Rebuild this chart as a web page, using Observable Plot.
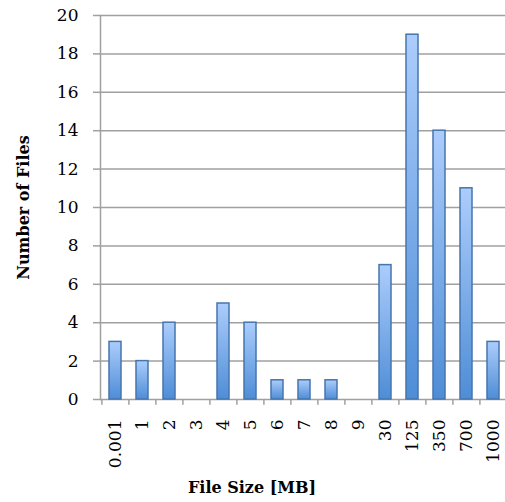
<!DOCTYPE html>
<html>
<head>
<meta charset="utf-8">
<script src="https://cdn.jsdelivr.net/npm/d3@7"></script>
<script src="https://cdn.jsdelivr.net/npm/@observablehq/plot@0.6"></script>
<style>
  html, body { margin: 0; padding: 0; background: #fff; }
  #chart svg { display: block; }
</style>
</head>
<body>
<div id="chart"></div>
<script>
// File size buckets (MB) and how many files fall in each
const sizes = ["0.001", "1", "2", "3", "4", "5", "6", "7", "8", "9", "30", "125", "350", "700", "1000"];
const counts = [3, 2, 4, 0, 5, 4, 1, 1, 1, 0, 7, 19, 14, 11, 3];
const yTicks = [0, 2, 4, 6, 8, 10, 12, 14, 16, 18, 20];

const rows = sizes.map((s, i) => ({size: s, count: counts[i]}));

const gridColor = "#a0a0a0";
const font = "DejaVu Serif";

const plot = Plot.plot({
  width: 505,
  height: 502,
  marginLeft: 100,
  marginRight: 0,
  marginTop: 15,
  marginBottom: 103,
  style: {fontFamily: font, fontSize: "17px", color: "#000", background: "#fff"},
  x: {domain: sizes, range: [100, 508], paddingInner: 0.57, paddingOuter: 0.285, label: null},
  y: {domain: [0, 20], label: null},
  marks: [
    Plot.gridY(yTicks, {stroke: gridColor, strokeOpacity: 1, strokeWidth: 1.5}),
    Plot.axisY(yTicks, {tickSize: 7, tickPadding: 15, stroke: gridColor, strokeWidth: 1.5, fontSize: 17, label: null}),
    Plot.frame({anchor: "left", stroke: gridColor, strokeWidth: 1.5}),
    // category boundary ticks below the baseline
    Plot.ruleX(sizes, {x: d => d, dx: -13.6, y1: 0, y2: -0.3, stroke: gridColor, strokeWidth: 1.5}),
    Plot.barY(rows, {x: "size", y: "count", fill: "url(#barGrad)", stroke: "#4676ae", strokeWidth: 1.5}),
    Plot.axisX({tickSize: 0, tickPadding: 20, tickRotate: -90, fontSize: 17, label: null}),
    Plot.text(["Number of Files"], {frameAnchor: "left", textAnchor: "middle", lineAnchor: "middle", dx: -77, rotate: -90, fontWeight: "bold", fontSize: 16}),
    Plot.text(["File Size [MB]"], {frameAnchor: "bottom", textAnchor: "middle", lineAnchor: "middle", dx: -51, dy: 88, fontWeight: "bold", fontSize: 16})
  ]
});

// vertical gradient used by each bar
const ns = "http://www.w3.org/2000/svg";
const defs = document.createElementNS(ns, "defs");
const grad = document.createElementNS(ns, "linearGradient");
grad.setAttribute("id", "barGrad");
grad.setAttribute("x1", "0"); grad.setAttribute("y1", "0");
grad.setAttribute("x2", "0"); grad.setAttribute("y2", "1");
[["0%", "#accdfc"], ["100%", "#4e8dd6"]].forEach(([o, c]) => {
  const st = document.createElementNS(ns, "stop");
  st.setAttribute("offset", o);
  st.setAttribute("stop-color", c);
  grad.appendChild(st);
});
defs.appendChild(grad);
plot.insertBefore(defs, plot.firstChild);

document.getElementById("chart").appendChild(plot);
</script>
</body>
</html>
